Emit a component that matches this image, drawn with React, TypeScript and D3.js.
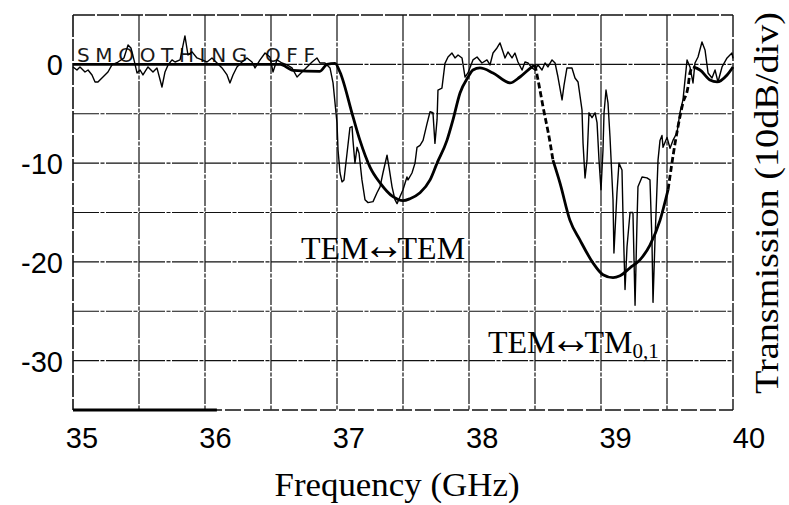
import React from "react";
import * as d3 from "d3";

// Measured (thin, noisy) trace: frequency (GHz) and transmission (dB)
const measFreq = [35.0,35.03,35.053,35.091,35.114,35.144,35.167,35.189,35.227,35.265,35.295,35.341,35.386,35.417,35.439,35.462,35.485,35.508,35.53,35.568,35.606,35.636,35.674,35.697,35.72,35.75,35.773,35.811,35.848,35.871,35.902,35.939,35.977,36.015,36.053,36.091,36.129,36.167,36.189,36.212,36.242,36.28,36.318,36.356,36.379,36.417,36.455,36.492,36.515,36.545,36.583,36.621,36.659,36.697,36.735,36.773,36.811,36.848,36.871,36.909,36.947,36.97,37.0,37.008,37.023,37.038,37.053,37.076,37.098,37.114,37.121,37.136,37.152,37.167,37.189,37.212,37.235,37.273,37.303,37.326,37.348,37.379,37.394,37.417,37.439,37.455,37.477,37.5,37.53,37.538,37.568,37.591,37.606,37.629,37.652,37.682,37.705,37.727,37.742,37.758,37.765,37.795,37.818,37.841,37.871,37.894,37.917,37.947,37.97,37.992,38.03,38.061,38.098,38.136,38.159,38.182,38.212,38.235,38.258,38.273,38.295,38.326,38.348,38.371,38.402,38.424,38.447,38.477,38.5,38.523,38.553,38.576,38.598,38.629,38.652,38.674,38.705,38.72,38.742,38.78,38.803,38.826,38.856,38.864,38.879,38.894,38.909,38.932,38.955,38.97,38.985,39.0,39.015,39.023,39.038,39.053,39.068,39.091,39.098,39.121,39.136,39.159,39.167,39.182,39.197,39.22,39.242,39.258,39.273,39.28,39.311,39.348,39.371,39.386,39.394,39.409,39.432,39.447,39.462,39.47,39.5,39.523,39.545,39.576,39.598,39.621,39.652,39.674,39.697,39.712,39.735,39.765,39.788,39.811,39.841,39.864,39.886,39.917,39.955,39.992,40.0];
const measDb = [-0.26,-0.57,-0.26,-0.77,-0.57,-1.07,-1.78,-1.78,-1.28,-0.77,-0.06,0.24,0.65,1.96,1.66,0.45,-0.87,-0.57,-1.07,-0.26,-0.77,-0.36,-2.29,-0.77,-0.06,0.45,0.24,0.45,2.88,0.95,1.26,0.65,0.45,0.24,0.65,0.14,-0.36,-1.07,-1.88,-1.07,-0.26,0.24,0.65,0.24,-0.36,0.45,1.15,0.75,-0.77,0.45,0.14,-0.06,-0.36,-1.28,-0.77,-0.26,0.24,0.65,0.14,0.14,-0.36,-1.88,-5.94,-8.7,-11.0,-11.9,-11.7,-9.0,-6.4,-6.3,-7.7,-10.0,-8.4,-9.0,-11.7,-13.7,-14.0,-13.9,-13.0,-12.4,-11.0,-9.2,-10.4,-12.4,-13.7,-14.1,-13.4,-12.7,-11.4,-11.7,-11.0,-10.0,-8.4,-8.2,-7.7,-6.0,-4.8,-4.9,-8.0,-5.6,-2.6,-2.4,0.1,0.75,1.15,0.65,0.95,0.65,-1.28,-0.87,0.45,0.75,0.14,0.45,-0.06,1.15,1.66,2.17,1.26,0.65,1.26,0.65,1.15,0.24,-0.57,0.24,0.14,-0.36,-0.57,-0.06,-0.57,0.14,-0.26,0.45,0.14,-1.28,-3.6,-2.1,-0.36,-0.36,-1.38,-1.78,-4.6,-8.0,-11.5,-9.7,-4.9,-5.4,-4.9,-5.9,-9.7,-12.7,-8.7,-4.9,-2.6,-3.9,-7.3,-13.7,-19.1,-13.0,-10.0,-10.7,-15.5,-22.8,-18.5,-15.0,-15.0,-24.4,-15.8,-12.4,-11.4,-11.5,-11.7,-17.8,-24.1,-17.8,-9.7,-7.7,-7.2,-8.4,-7.4,-8.5,-7.7,-6.9,-4.9,-3.6,0.45,-0.26,-1.88,0.14,0.75,2.27,1.46,-0.87,-1.38,-0.57,-1.78,-0.26,0.65,1.15,0.6];

// Calculated (thick, smooth) trace
const calcFreq = [35.0,36.0,36.57,36.667,36.871,36.924,36.985,37.023,37.121,37.174,37.25,37.326,37.424,37.5,37.553,37.629,37.705,37.758,37.833,37.879,37.932,37.992,38.03,38.083,38.182,38.311,38.386,38.477,38.5,38.523,38.561,38.614,38.636,38.689,38.765,38.841,38.939,39.015,39.091,39.144,39.22,39.295,39.371,39.447,39.508,39.561,39.598,39.621,39.659,39.674,39.697,39.75,39.826,39.879,39.955,40.0];
const calcDb = [0,0,0,-0.6,-0.7,0,0.1,-0.8,-5.3,-7.7,-10.4,-12.0,-13.4,-13.8,-13.6,-13.0,-11.7,-10.0,-7.7,-5.6,-2.9,-1.3,-0.57,-0.36,-0.87,-1.88,-1.28,-0.26,-0.06,-1.58,-4.3,-7.9,-9.7,-12.0,-15.8,-17.8,-20.1,-21.3,-21.6,-21.4,-20.6,-19.8,-18.3,-15.8,-12.7,-8.0,-5.3,-3.9,-2.3,-0.87,-0.26,-0.57,-1.58,-1.78,-1.07,-0.26];
// frequency ranges where the calculated trace is drawn dashed
const calcDashedRanges = [[38.5, 38.636], [39.508, 39.697]];

const xTicks = [35, 36, 37, 38, 39, 40];
const yTicks = [0, -10, -20, -30];
const xGrid = [35.5, 36, 36.5, 37, 37.5, 38, 38.5, 39, 39.5];
const yGrid = [0, -5, -10, -15, -20, -25, -30];

export default function App() {
  const W = 789, H = 505;
  const x = d3.scaleLinear().domain([35, 40]).range([73, 733]);
  const y = d3.scaleLinear().domain([-35, 5]).range([410, 15]);
  const xLab = d3.scaleLinear().domain([35, 40]).range([82, 749]);

  const meas = measFreq.map((f, i) => [f, measDb[i]] as [number, number]);
  const calc = calcFreq.map((f, i) => [f, calcDb[i]] as [number, number]);

  const lineLin = d3.line<[number, number]>().x(d => x(d[0])).y(d => y(d[1]));
  const lineSmooth = d3.line<[number, number]>().x(d => x(d[0])).y(d => y(d[1])).curve(d3.curveMonotoneX);

  const bounds = [35, ...calcDashedRanges.flat(), 40];
  const segs: { pts: [number, number][]; dashed: boolean }[] = [];
  for (let i = 0; i < bounds.length - 1; i++) {
    const a = bounds[i], b = bounds[i + 1];
    segs.push({ pts: calc.filter(p => p[0] >= a - 1e-9 && p[0] <= b + 1e-9), dashed: i % 2 === 1 });
  }

  const gridStyle = { stroke: "#111", strokeWidth: 1.2, strokeDasharray: "26,1.5,4,1.5" };
  const serif = "Liberation Serif, Times New Roman, serif";
  const sans = "Liberation Sans, Arial, sans-serif";

  return (
    <svg width={W} height={H} style={{ position: "absolute", left: 0, top: 0, background: "#fff" }}>
      <rect x={0} y={0} width={W} height={H} fill="#fff" />
      {xGrid.map(v => (
        <line key={"gx" + v} x1={x(v)} x2={x(v)} y1={y(5)} y2={y(-35)} {...gridStyle} />
      ))}
      {yGrid.map(v => (
        <line key={"gy" + v} x1={x(35)} x2={x(40)} y1={y(v)} y2={y(v)} {...gridStyle} />
      ))}
      <line x1={x(35)} x2={x(40)} y1={y(5)} y2={y(5)} stroke="#111" strokeWidth={1.4} strokeDasharray="22,2" />
      <line x1={x(40)} x2={x(40)} y1={y(5)} y2={y(-35)} stroke="#111" strokeWidth={1.4} strokeDasharray="22,2" />
      <line x1={x(35)} x2={x(35)} y1={y(5)} y2={y(-35)} stroke="#111" strokeWidth={1.6} strokeDasharray="22,2" />
      <line x1={x(35)} x2={x(40)} y1={y(-35)} y2={y(-35)} stroke="#111" strokeWidth={1.4} strokeDasharray="16,3" />
      <line x1={x(35)} x2={x(36.09)} y1={y(-35)} y2={y(-35)} stroke="#000" strokeWidth={3} />

      <text x={77} y={62} fontFamily="DejaVu Sans, sans-serif" fontSize={20} textLength={238} lengthAdjust="spacing" fill="#1a1a1a">SMOOTHING OFF</text>

      <path d={lineLin(meas) || ""} fill="none" stroke="#000" strokeWidth={1.4} strokeLinejoin="round" />
      {segs.map((s, i) => (
        <path key={"c" + i} d={lineSmooth(s.pts) || ""} fill="none" stroke="#000" strokeWidth={2.8}
          strokeDasharray={s.dashed ? "6,3" : undefined} strokeLinejoin="round" />
      ))}

      {yTicks.map(v => (
        <text key={"yt" + v} x={63} y={y(v) + 11} textAnchor="end" fontFamily={sans} fontSize={29} fill="#000">{v}</text>
      ))}
      {xTicks.map(v => (
        <text key={"xt" + v} x={xLab(v)} y={448} textAnchor="middle" fontFamily={sans} fontSize={29} fill="#000">{v}</text>
      ))}

      <text x={301} y={259} fontFamily={serif} fontSize={32} fill="#000">
        <tspan>TEM</tspan>
        <tspan fontSize={42} dx={-6}>↔</tspan>
        <tspan dx={-7}>TEM</tspan>
      </text>
      <text x={488} y={353} fontFamily={serif} fontSize={32} fill="#000">
        <tspan>TEM</tspan>
        <tspan fontSize={42} dx={-6}>↔</tspan>
        <tspan dx={-7}>TM</tspan>
        <tspan fontSize={21} dy={5}>0,1</tspan>
      </text>

      <text x={397} y={496} textAnchor="middle" fontFamily={serif} fontSize={33} textLength={245} lengthAdjust="spacingAndGlyphs" fill="#000">Frequency (GHz)</text>
      <text transform={`translate(778,203) rotate(-90)`} textAnchor="middle" fontFamily={serif} fontSize={33} textLength={382} lengthAdjust="spacingAndGlyphs" fill="#000">Transmission (10dB/div)</text>
    </svg>
  );
}
